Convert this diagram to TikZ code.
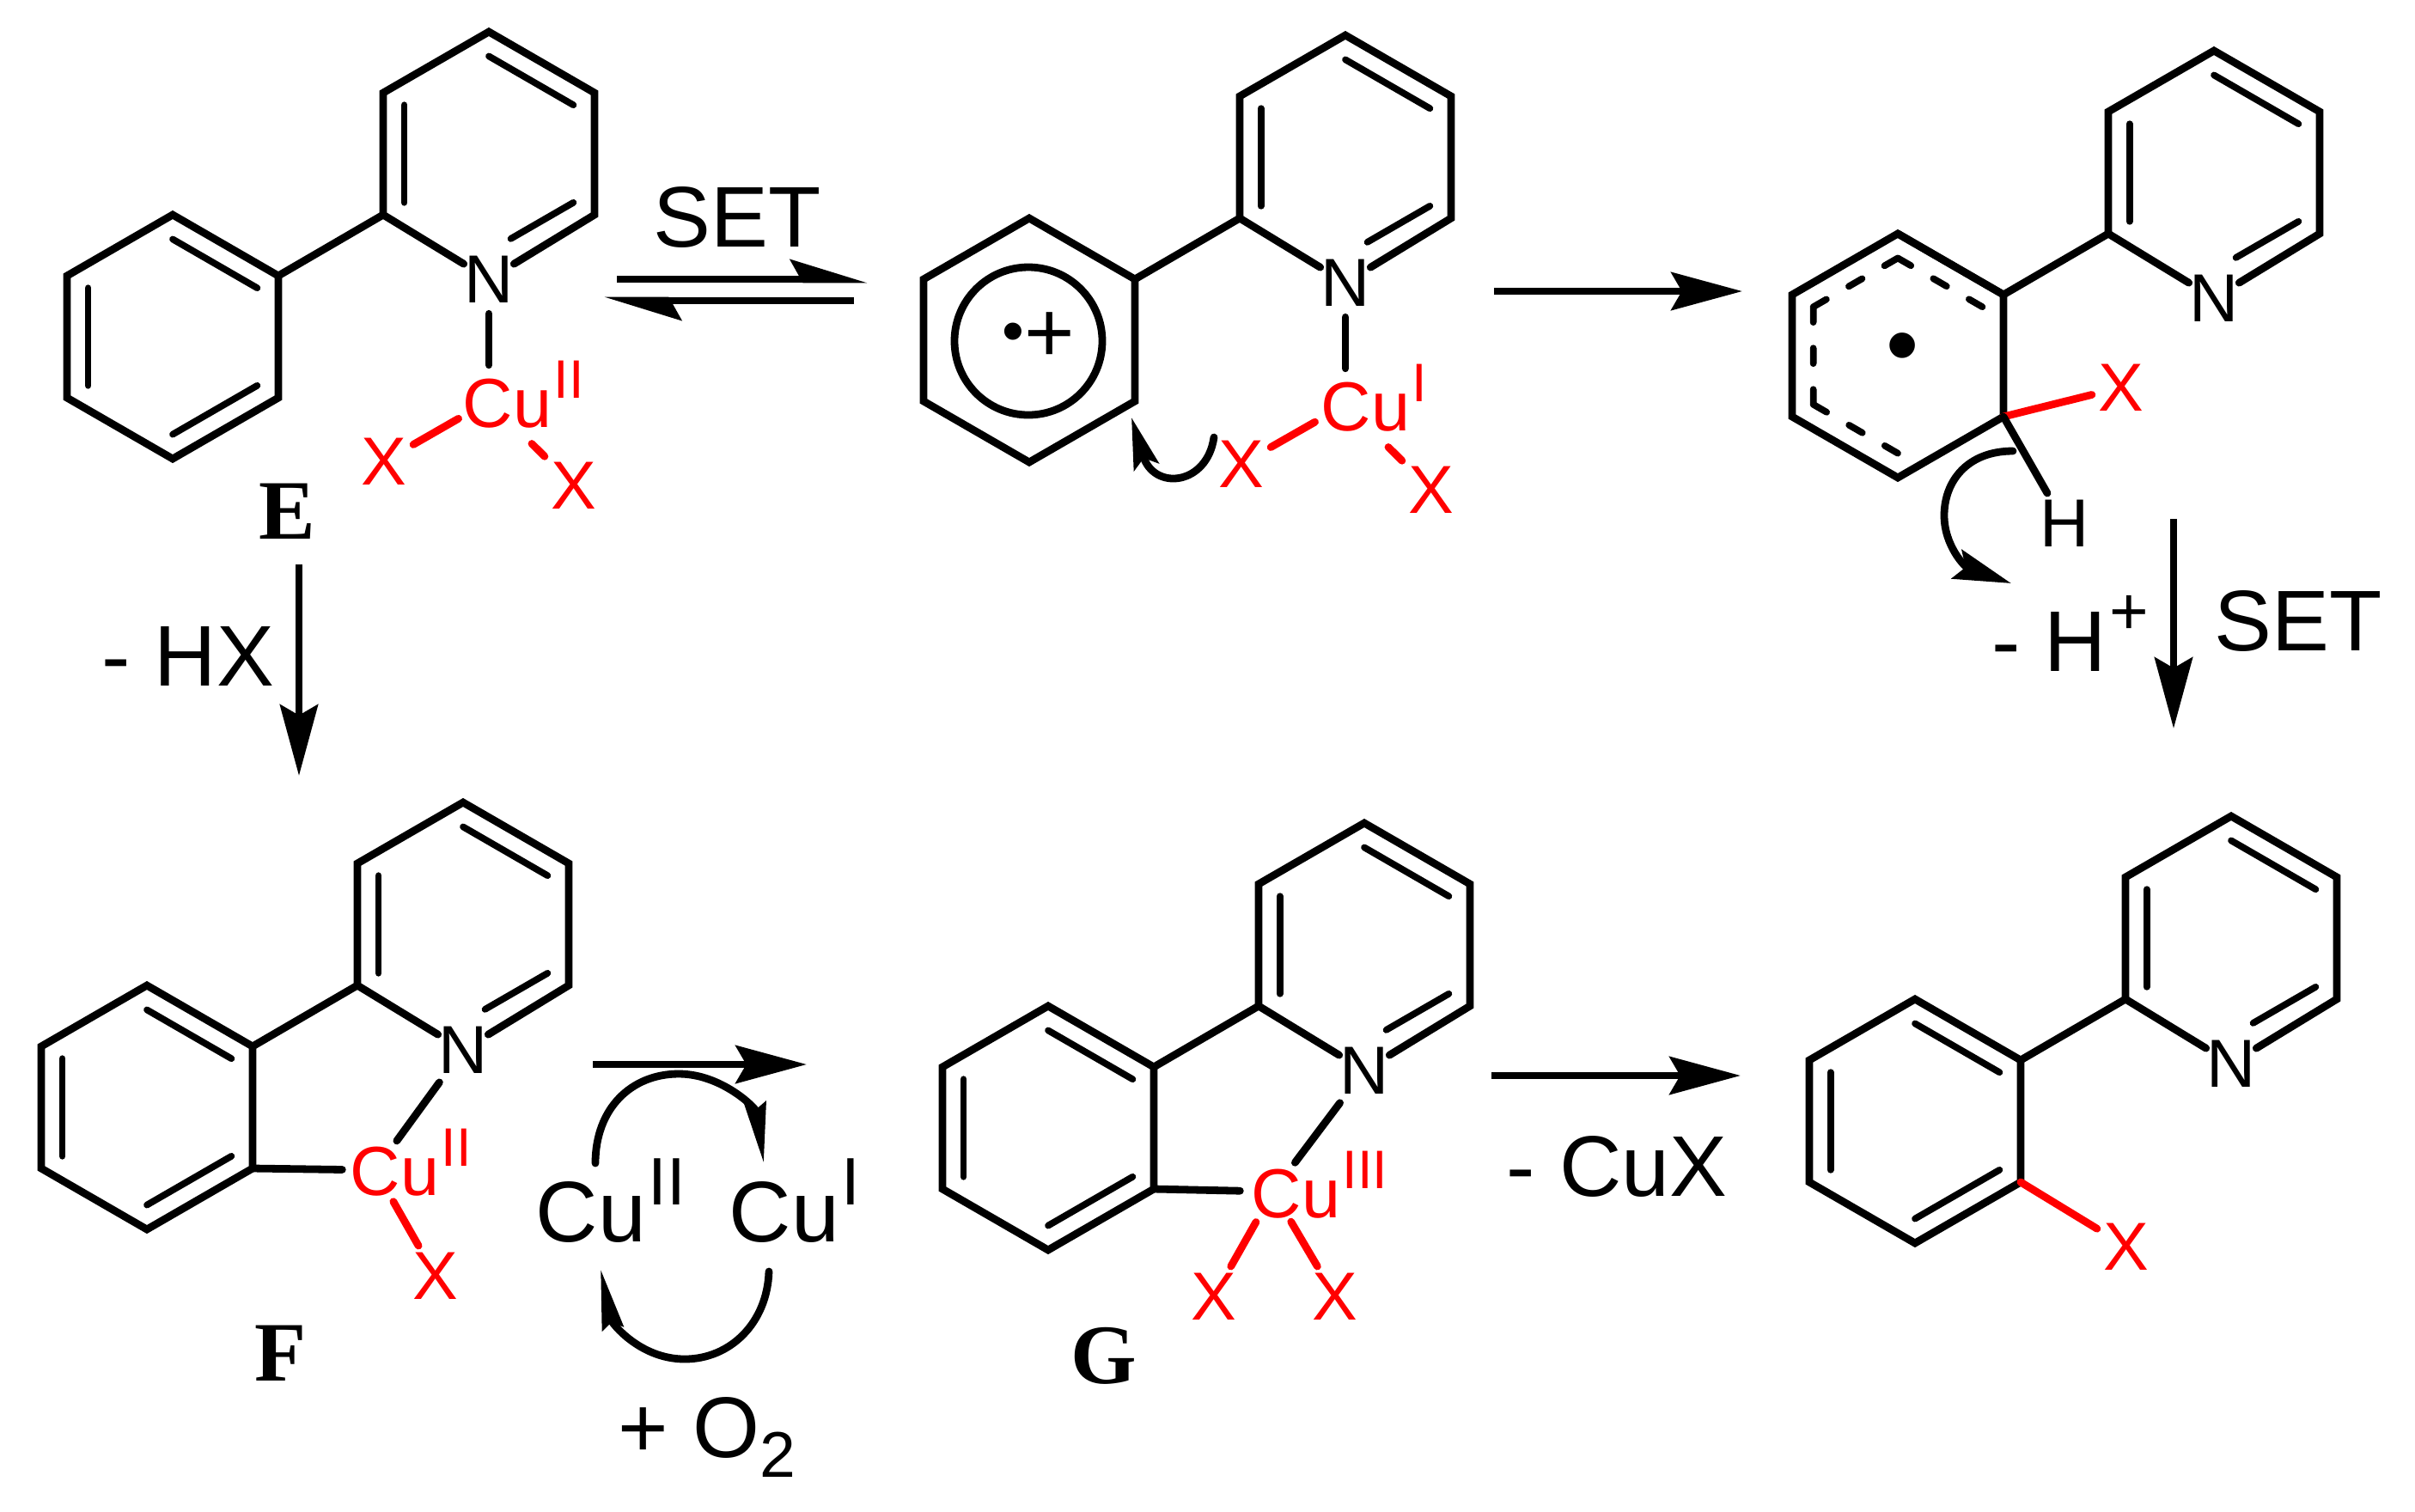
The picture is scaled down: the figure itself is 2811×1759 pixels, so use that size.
\documentclass[tikz,border=0pt]{standalone}
\usepackage{fontspec}
\setmainfont{Liberation Sans}
\newfontfamily\serifbold[BoldFont={Liberation Serif Bold}]{Liberation Serif}
\usetikzlibrary{calc}
\usetikzlibrary{arrows.meta}

\tikzset{
	bond/.style={line width=2.5pt, line cap=round, line join=miter},
	innerbond/.style={line width=2.2pt, line cap=round},
	dashbond/.style={line width=2.2pt, line cap=round, dash pattern=on 5.1pt off 8.55pt},
	redbond/.style={bond, red},
	metalbond/.style={bond, shorten <=3.5pt, shorten >=12pt},
	rxn/.style={line width=2.5pt, -{Stealth[length=23.5pt,width=12.5pt,inset=3.5pt]}},
	halfup/.style={line width=2.5pt, -{Stealth[length=21.5pt,width=13pt,inset=3.5pt,harpoon]}},
	curlya/.style={line width=2.5pt, line cap=round, -{Stealth[length=17pt,width=8.5pt,inset=3pt]}},
	curlyb/.style={line width=2.5pt, line cap=round, -{Stealth[length=19pt,width=10pt,inset=3pt]}},
	curlyc/.style={line width=2.5pt, line cap=round, -{Stealth[length=20pt,width=7pt,inset=2pt]}},
	atomtext/.style={inner sep=0pt, font=\fontsize{22.5}{27}\selectfont},
	redatom/.style={atomtext, inner sep=2pt, red},
	metal/.style={inner sep=0pt, anchor=base west, red, font=\fontsize{23}{27}\selectfont},
	txt/.style={inner sep=0pt, font=\fontsize{28.5}{32}\selectfont},
	cpdlabel/.style={inner sep=0pt, anchor=base, font=\serifbold\bfseries\fontsize{28}{32}\selectfont}
}

\newcommand{\supr}[1]{\kern.03em\raisebox{.42em}{\scalebox{.78}{#1}}}
\newcommand{\subr}[1]{\raisebox{-.23em}{\scalebox{.75}{#1}}}

\newcommand{\hexring}[2]{%
	\coordinate (#1) at (#2);
	\foreach \n in {1,...,6} {
		\coordinate (#1\n) at ($(#1)+({60*\n-150}:142)$);
		\coordinate (#1i\n) at ($(#1)!0.8!(#1\n)$);
	}
}
\newcommand{\ppy}[3]{%
	\hexring{#1a}{#2,#3}
	\hexring{#1b}{#2-368,#3+213}
	\node[atomtext] (#1N) at ($(#1a4)+(0,4)$) {N};
	\draw[bond] (#1N) -- (#1a5) -- (#1a6) -- (#1a1) -- (#1a2) -- (#1a3) -- (#1N);
	\draw[bond] (#1a5) -- (#1b2);
	\draw[bond] (#1b1) -- (#1b2) -- (#1b3) -- (#1b4) -- (#1b5) -- (#1b6) -- cycle;
	\draw[innerbond] (#1ai1) -- (#1ai2);
	\draw[innerbond] (#1ai5) -- (#1ai6);
	\draw[innerbond] (#1ai3) -- ($(#1ai3)!0.74!(#1ai4)$);
}
\newcommand{\kekule}[1]{%
	\draw[innerbond] (#1bi1) -- (#1bi2);
	\draw[innerbond] (#1bi3) -- (#1bi4);
	\draw[innerbond] (#1bi5) -- (#1bi6);
}

\begin{document}
\begin{tikzpicture}[x=0.01cm, y=-0.01cm]
	\useasboundingbox (0,0) rectangle (2811,1759);

	% E
	\ppy{e}{569}{179}
	\kekule{e}
	\coordinate (eM) at (569,467);
	\node[metal] (eCu) at (538,497) {Cu\supr{II}};
	\node[redatom] (eX1) at (447,537) {X};
	\node[redatom] (eX2) at (668,565) {X};
	\draw[metalbond] (eN) -- (eM);
	\draw[redbond, shorten <=11.6pt] (eM) -- (eX1);
	\draw[redbond, shorten <=20pt] (eM) -- (eX2);
	\node[cpdlabel] (eLab) at (334,627) {E};

	% radical cation
	\ppy{r}{1566}{183}
	\draw[bond] (1197,397) circle (86);
	\node[txt, font=\fontsize{21}{25}\selectfont] (rDot) at (1179,393) {•};
	\node[txt] (rPlus) at (1222,393) {+};
	\coordinate (rM) at (1566,471);
	\node[metal] (rCu) at (1537,501) {Cu\supr{I}};
	\node[redatom] (rX1) at (1445,540) {X};
	\node[redatom] (rX2) at (1666,570) {X};
	\draw[metalbond] (rN) -- (rM);
	\draw[redbond, shorten <=11.6pt] (rM) -- (rX1);
	\draw[redbond, shorten <=20pt] (rM) -- (rX2);
	\coordinate (rCurlS) at (1413,509);
	\coordinate (rCurlT) at (1317,486);
	\draw[curlya] (rCurlS) .. controls (1405,565) and (1343,572) .. (rCurlT);

	% radical adduct
	\ppy{s}{2577}{201}
	\draw[bond] (sb1) -- (sb2);
	\draw[dashbond] (sbi2) -- (sbi1) (sbi1) -- (sbi6) (sbi6) -- (sbi5) (sbi5) -- (sbi4);
	\node[txt, font=\fontsize{31}{36}\selectfont] (sDot) at (2215,413) {•};
	\node[redatom] (sX) at (2469,451) {X};
	\node[atomtext, inner sep=2pt] (sH) at (2403,609) {H};
	\draw[redbond] (sb3) -- (sX);
	\draw[bond] (sb3) -- (sH);
	\coordinate (sCurlS) at (2343,525);
	\coordinate (sCurlT) at (2341,679);
	\draw[curlyb] (sCurlS) .. controls (2290,525) and (2263,560) .. (2263,600) .. controls (2263,635) and (2287,660) .. (sCurlT);

	% F
	\ppy{f}{539}{1076}
	\kekule{f}
	\coordinate (fM) at (437,1362);
	\node[metal] (fCu) at (407,1391) {Cu\supr{II}};
	\node[redatom] (fX) at (507,1485) {X};
	\draw[metalbond] (fN) -- (fM);
	\draw[bond, shorten >=11pt] (fb3) -- (fM);
	\draw[redbond, shorten <=12pt] (fM) -- (fX);
	\node[cpdlabel] (fLab) at (327,1607) {F};

	% copper cycle
	\node[txt, anchor=base west] (cuA) at (623,1445) {Cu\supr{II}};
	\node[txt, anchor=base west] (cuB) at (848,1445) {Cu\supr{I}};
	\coordinate (cyc1) at (693,1354);
	\coordinate (cyc2) at (889,1354);
	\coordinate (cyc3) at (895,1480);
	\coordinate (cyc4) at (699,1477);
	\draw[curlyc] (cyc1) .. controls (693,1290) and (735,1250) .. (790,1250) .. controls (840,1250) and (880,1290) .. (cyc2);
	\draw[curlyc] (cyc3) .. controls (893,1540) and (850,1582) .. (797,1582) .. controls (745,1582) and (712,1540) .. (cyc4);
	\node[txt, anchor=base west] (oTwo) at (719,1696) {+ O\subr{2}};

	% G
	\ppy{g}{1588}{1100}
	\kekule{g}
	\coordinate (gM) at (1482,1387);
	\node[metal] (gCu) at (1456,1417) {Cu\supr{III}};
	\node[redatom] (gX1) at (1413,1509) {X};
	\node[redatom] (gX2) at (1554,1509) {X};
	\draw[metalbond] (gN) -- (gM);
	\draw[bond, shorten >=11pt] (gb3) -- (gM);
	\draw[redbond, shorten <=11.6pt] (gM) -- (gX1);
	\draw[redbond, shorten <=11.6pt] (gM) -- (gX2);
	\node[cpdlabel] (gLab) at (1285,1610) {G};

	% product
	\ppy{p}{2597}{1092}
	\kekule{p}
	\node[redatom] (pX) at (2475,1451) {X};
	\draw[redbond] (pb3) -- (pX);

	% reaction arrows
	\coordinate (a1s) at (718,325);
	\coordinate (a1t) at (1010,325);
	\coordinate (a2s) at (994,350);
	\coordinate (a2t) at (703,350);
	\draw[halfup] (a1s) -- (a1t);
	\draw[halfup] (a2s) -- (a2t);
	\node[txt, anchor=base] (set1) at (858,287) {SET};
	\coordinate (a3s) at (1739,339);
	\coordinate (a3t) at (2028,339);
	\draw[rxn] (a3s) -- (a3t);
	\coordinate (a4s) at (2530,604);
	\coordinate (a4t) at (2530,848);
	\draw[rxn] (a4s) -- (a4t);
	\node[txt, anchor=base] (set2) at (2675,757) {SET};
	\node[txt, anchor=base west] (hPlus) at (2318,781) {- H\supr{+}};
	\coordinate (a5s) at (348,657);
	\coordinate (a5t) at (348,903);
	\draw[rxn] (a5s) -- (a5t);
	\node[txt, anchor=base] (hx) at (219,798) {- HX};
	\coordinate (a6s) at (690,1239);
	\coordinate (a6t) at (939,1239);
	\draw[rxn] (a6s) -- (a6t);
	\coordinate (a7s) at (1736,1252);
	\coordinate (a7t) at (2026,1252);
	\draw[rxn] (a7s) -- (a7t);
	\node[txt, anchor=base] (cux) at (1882,1392) {- CuX};
\end{tikzpicture}
\end{document}
